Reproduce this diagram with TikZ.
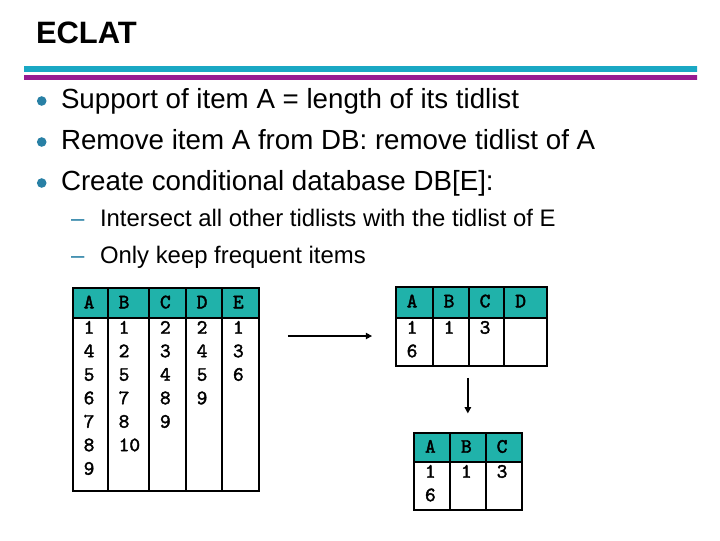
\documentclass[tikz,border=0pt]{standalone}
\usepackage{fontspec}
\setmainfont{Liberation Sans}
\newfontfamily\cellfont{lmmono10-regular.otf}[FakeBold=2]
\usetikzlibrary{positioning,fit,arrows.meta}
\definecolor{headteal}{RGB}{32,178,170}
\definecolor{dotblue}{RGB}{40,128,165}
\definecolor{barcyanA}{RGB}{26,168,196}
\definecolor{barcyanB}{RGB}{46,196,222}
\definecolor{barmagA}{RGB}{150,28,145}
\definecolor{barmagB}{RGB}{208,34,208}

\begin{document}
\begin{tikzpicture}[x=0.025cm, y=-0.025cm, every node/.style={inner sep=0pt, outer sep=0pt}]
\tikzstyle{grid}=[line width=1.4pt]
\tikzstyle{frame}=[draw, line width=1.4pt]
\tikzstyle{cell}=[font=\cellfont\fontsize{14.5}{14.5}\selectfont, anchor=base west]
\tikzstyle{dot}=[circle, fill=dotblue, minimum size=0.24cm]
\tikzstyle{bullettext}=[font=\fontsize{19.7}{20}\selectfont, anchor=base west]
\tikzstyle{subtext}=[font=\fontsize{17}{17}\selectfont, anchor=base west]
\tikzstyle{arr}=[-{Triangle[length=4.5pt,width=4.5pt]}, line width=1.4pt]

\useasboundingbox (0,0) rectangle (720,540);
\fill[white] (0,0) rectangle (720,540);

% title and bars
\node[font=\bfseries\fontsize{22}{22}\selectfont, anchor=base west] (title) at (36,43) {ECLAT};
\shade[left color=barcyanA, middle color=barcyanB, right color=barcyanA] (24,66.5) rectangle (697,71.5);
\shade[left color=barmagA, middle color=barmagB, right color=barmagA] (24,75) rectangle (697,79);

% bullets
\node[dot] (b1) at (41.7,101) {};
\node[dot] (b2) at (41.7,142) {};
\node[dot] (b3) at (41.7,183) {};
\node[bullettext] (l1) at (61,108) {Support of item A = length of its tidlist};
\node[bullettext] (l2) at (61,149) {Remove item A from DB: remove tidlist of A};
\node[bullettext] (l3) at (61,190) {Create conditional database DB[E]:};
\node[subtext, text=dotblue] (d1) at (71,226.5) {–};
\node[subtext, text=dotblue] (d2) at (71,263.5) {–};
\node[subtext] (s1) at (100,226.5) {Intersect all other tidlists with the tidlist of E};
\node[subtext] (s2) at (100,263.5) {Only keep frequent items};

% database
\fill[headteal] (72.7,288.3) rectangle (258.7,317.7);
\node[frame, fit={(72.7,288.3) (258.7,490.7)}] (tab1) {};
\foreach \x in {107.7,149,185.7,222} \draw[grid] (\x,288.3) -- (\x,490.7);
\draw[grid] (72.7,317.7) -- (258.7,317.7);
\foreach \x/\h/\col [count=\j] in {72.7/A/{1,4,5,6,7,8,9}, 107.7/B/{1,2,5,7,8,10}, 149/C/{2,3,4,8,9}, 185.7/D/{2,4,5,9}, 222/E/{1,3,6}} {
  \node[cell] (t1h\j) at (\x+11,308.3) {\h};
  \foreach \v [count=\i] in \col
    \node[cell] (t1c\j-\i) at (\x+11,333.7+23.5*\i-23.5) {\v};
}

% DB[E]
\fill[headteal] (395.7,287.3) rectangle (546.7,317.7);
\node[frame, fit={(395.7,287.3) (546.7,366)}] (tab2) {};
\foreach \x in {432.7,468.7,504.3} \draw[grid] (\x,287.3) -- (\x,366);
\draw[grid] (395.7,317.7) -- (546.7,317.7);
\foreach \x/\h/\col [count=\j] in {395.7/A/{1,6}, 432.7/B/{1}, 468.7/C/{3}} {
  \node[cell] (t2h\j) at (\x+11,307.3) {\h};
  \foreach \v [count=\i] in \col
    \node[cell] (t2c\j-\i) at (\x+11,333.7+23.5*\i-23.5) {\v};
}
\node[cell] (t2h4) at (504.3+11,307.3) {D};

% frequent items of DB[E]
\fill[headteal] (414,432.7) rectangle (521.7,461.7);
\node[frame, fit={(414,432.7) (521.7,510)}] (tab3) {};
\foreach \x in {450,485.7} \draw[grid] (\x,432.7) -- (\x,510);
\draw[grid] (414,461.7) -- (521.7,461.7);
\foreach \x/\h/\col [count=\j] in {414/A/{1,6}, 450/B/{1}, 485.7/C/{3}} {
  \node[cell] (t3h\j) at (\x+11,452.7) {\h};
  \foreach \v [count=\i] in \col
    \node[cell] (t3c\j-\i) at (\x+11,477.7+23.5*\i-23.5) {\v};
}

% arrows
\coordinate (hy) at (0,336);
\draw[arr, shorten <=20.8pt, shorten >=16.8pt] (tab1.east |- hy) -- (tab2.west |- hy);
\draw[arr, shorten <=8.5pt, shorten >=13.7pt] (tab3.north |- tab2.south) -- (tab3.north);
\end{tikzpicture}
\end{document}
